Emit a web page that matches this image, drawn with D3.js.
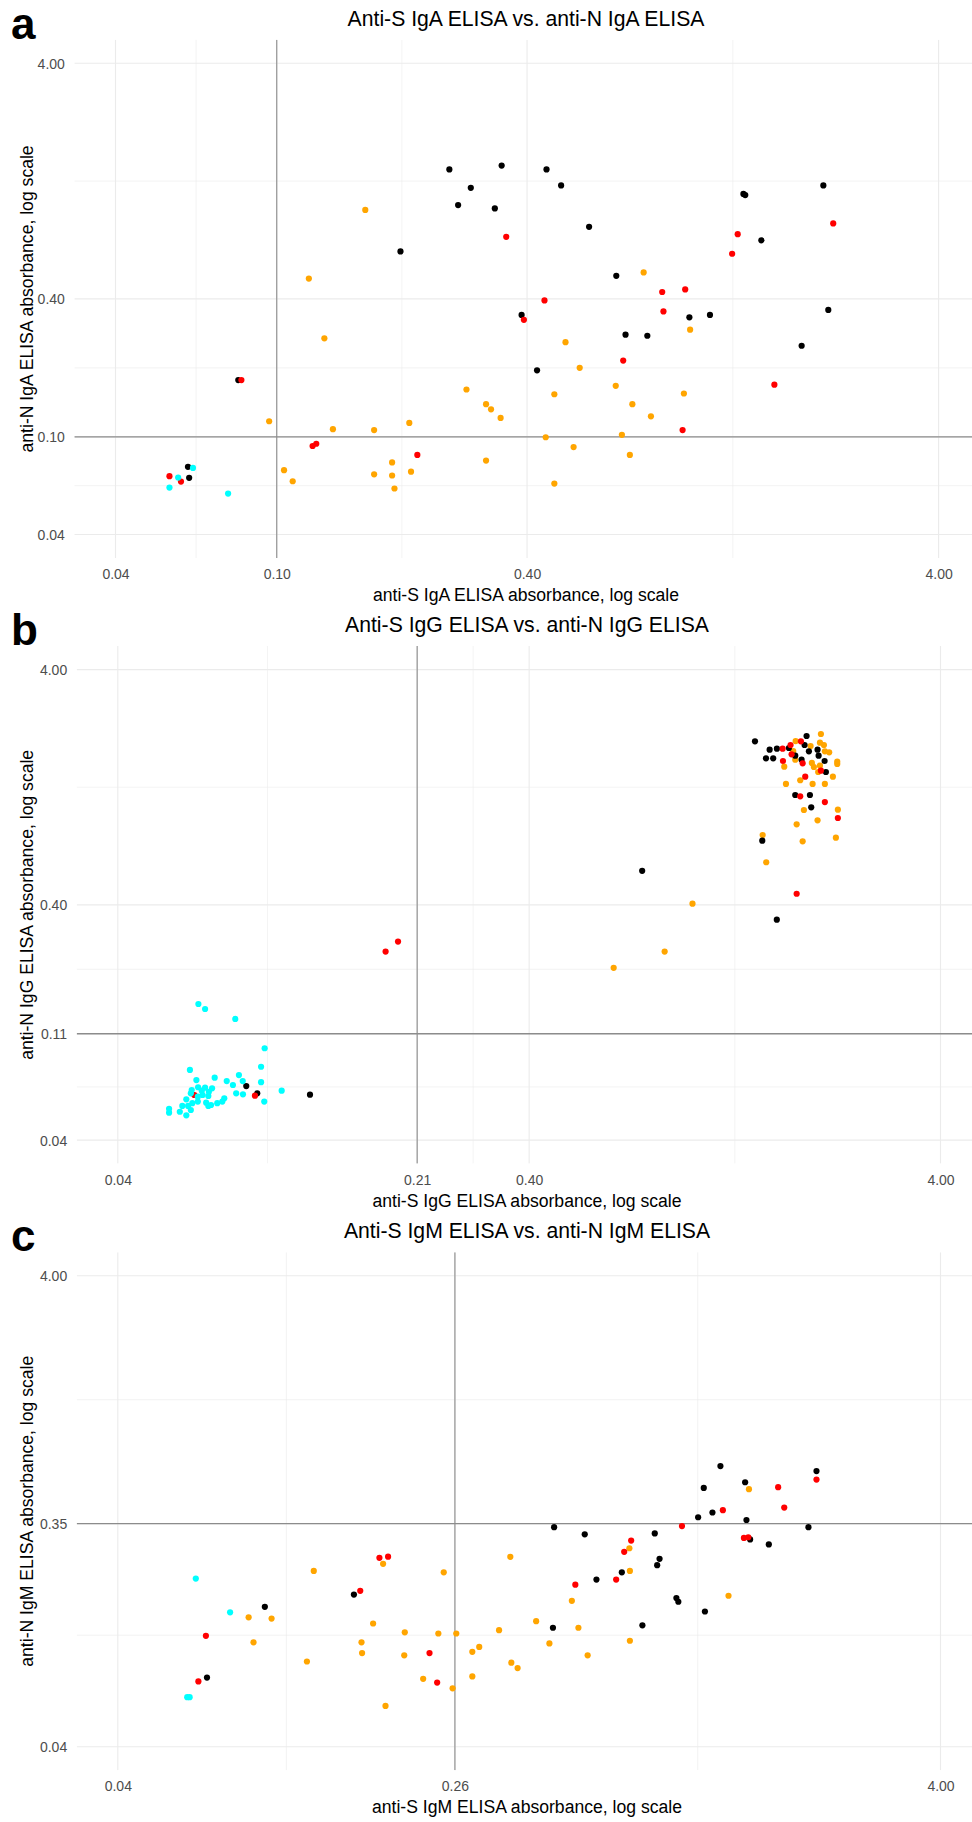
<!DOCTYPE html>
<html>
<head>
<meta charset="utf-8">
<script src="https://cdn.jsdelivr.net/npm/d3@7"></script>
<style>
  html, body { margin: 0; padding: 0; background: #ffffff; }
  svg { display: block; }
  text { font-family: "Liberation Sans", Arial, sans-serif; }
</style>
</head>
<body>
<div id="chart"></div>
<script>
// ---------------- DATA ----------------
// Panel a: IgA  [anti-S absorbance, anti-N absorbance]
const igaBlack = [[0.259,1.418],[0.347,1.472],[0.446,1.418],[0.292,1.185],[0.484,1.212],[0.272,1.001],[0.334,0.968],[2.099,1.212],[1.342,1.116],[1.356,1.103],[0.566,0.809],[1.484,0.709],[0.197,0.636],[0.659,0.501],[0.388,0.342],[0.992,0.334],[1.113,0.342],[2.158,0.359],[0.694,0.282],[0.784,0.279],[1.859,0.253],[0.423,0.199],[0.0795,0.181],[0.0600,0.0775],[0.0604,0.0696]];
const igaRed = [[0.356,0.734],[2.218,0.836],[1.300,0.753],[1.260,0.622],[0.441,0.394],[0.852,0.428],[0.969,0.439],[0.858,0.354],[0.393,0.326],[0.685,0.219],[1.596,0.173],[0.0809,0.181],[0.955,0.111],[0.1205,0.095],[0.123,0.0971],[0.2165,0.0871],[0.0541,0.0707],[0.0577,0.0671]];
const igaOrange = [[0.1618,0.954],[0.118,0.488],[0.768,0.518],[0.1287,0.272],[0.996,0.296],[0.496,0.262],[0.537,0.204],[0.657,0.171],[0.285,0.165],[0.466,0.1575],[0.962,0.1587],[0.318,0.143],[0.327,0.136],[0.721,0.143],[0.345,0.125],[0.800,0.127],[0.0945,0.121],[0.135,0.112],[0.170,0.111],[0.207,0.119],[0.444,0.1035],[0.680,0.106],[0.519,0.094],[0.711,0.0871],[0.318,0.0824],[0.188,0.0809],[0.1027,0.075],[0.1078,0.0673],[0.170,0.072],[0.188,0.0712],[0.209,0.0739],[0.1905,0.0627],[0.466,0.0658]];
const igaCyan = [[0.0617,0.0767],[0.0568,0.0698],[0.0541,0.0633],[0.0751,0.0597]];

// Panel b: IgG
const iggBlack = [[1.416,1.982],[1.537,1.826],[1.601,1.844],[1.506,1.679],[1.568,1.679],[1.890,2.088],[1.869,1.912],[1.774,1.722],[1.838,1.656],[1.915,1.798],[2.010,1.826],[2.022,1.722],[2.091,1.635],[2.106,1.468],[1.774,1.172],[1.926,1.172],[1.940,1.039],[1.475,0.750],[1.712,1.857],[0.753,0.558],[1.600,0.346],[0.0821,0.0679],[0.0873,0.0632],[0.1173,0.0624]];
const iggRed = [[1.653,1.844],[1.728,1.912],[1.831,1.982],[1.738,1.746],[1.656,1.635],[1.849,1.599],[2.048,1.487],[1.876,1.402],[1.824,1.157],[2.094,1.094],[2.252,0.936],[1.788,0.446],[0.1791,0.2533],[0.1920,0.2793],[0.0862,0.0618],[0.0614,0.0622]];
const iggOrange = [[2.048,2.130],[1.778,1.988],[2.037,1.956],[2.083,1.912],[1.933,1.893],[1.754,1.803],[2.094,1.798],[2.145,1.780],[1.774,1.656],[1.947,1.604],[2.244,1.624],[2.244,1.588],[1.668,1.547],[1.969,1.542],[2.037,1.562],[2.017,1.468],[2.190,1.402],[1.824,1.354],[1.684,1.306],[1.955,1.306],[2.094,1.306],[1.862,1.012],[2.252,1.015],[2.010,0.915],[1.788,0.880],[1.478,0.792],[2.227,0.772],[1.849,0.745],[1.508,0.607],[0.998,0.4045],[0.854,0.2533],[0.642,0.216]];
const iggCyan = [[0.0628,0.1516],[0.0652,0.1443],[0.0772,0.1309],[0.0910,0.0983],[0.0892,0.0820],[0.0599,0.0795],[0.0788,0.0756],[0.0688,0.0737],[0.0621,0.0720],[0.0805,0.0713],[0.0736,0.0713],[0.0892,0.0705],[0.0762,0.0686],[0.0627,0.0671],[0.0652,0.0668],[0.0678,0.0664],[0.0605,0.0653],[0.0640,0.0649],[0.0666,0.0642],[0.0602,0.0632],[0.1001,0.0649],[0.0776,0.0632],[0.0806,0.0626],[0.0643,0.0622],[0.0626,0.0612],[0.0664,0.0616],[0.0726,0.0602],[0.0587,0.0596],[0.0626,0.0583],[0.0656,0.0577],[0.0908,0.0583],[0.0718,0.0583],[0.0698,0.0574],[0.0674,0.0564],[0.0664,0.0559],[0.0574,0.0559],[0.0593,0.0559],[0.0607,0.0574],[0.0602,0.0537],[0.0533,0.0543],[0.0533,0.0523],[0.0566,0.0528],[0.0587,0.0510]];

// Panel c: IgM
const igmBlack = [[1.167,0.622],[1.998,0.592],[1.063,0.502],[1.340,0.531],[1.116,0.395],[1.030,0.377],[1.350,0.367],[1.910,0.342],[0.460,0.342],[0.546,0.319],[0.808,0.322],[1.378,0.3035],[1.530,0.289],[0.830,0.251],[0.819,0.236],[0.672,0.220],[0.583,0.205],[0.912,0.171],[0.922,0.165],[1.070,0.150],[0.754,0.131],[0.457,0.128],[0.150,0.177],[0.0911,0.157],[0.0659,0.0786]];
const igmRed = [[1.998,0.545],[1.612,0.506],[1.668,0.4145],[1.183,0.404],[0.941,0.346],[1.331,0.308],[1.364,0.310],[0.708,0.300],[0.681,0.269],[0.173,0.2535],[0.1816,0.2564],[0.651,0.205],[0.518,0.195],[0.1554,0.1836],[0.0655,0.1183],[0.229,0.0999],[0.239,0.0749],[0.0628,0.0757]];
const igmOrange = [[1.369,0.496],[0.701,0.2785],[0.360,0.256],[0.1766,0.239],[0.1198,0.223],[0.248,0.220],[0.703,0.223],[1.221,0.175],[0.508,0.1665],[0.0832,0.1417],[0.0946,0.140],[0.167,0.1334],[0.416,0.1365],[0.527,0.128],[0.1994,0.1224],[0.2406,0.121],[0.266,0.121],[0.338,0.125],[0.0855,0.111],[0.1565,0.111],[0.448,0.1098],[0.703,0.1127],[0.3025,0.1061],[0.291,0.1011],[0.157,0.0999],[0.1988,0.0977],[0.555,0.0977],[0.1153,0.092],[0.362,0.091],[0.375,0.0863],[0.291,0.0795],[0.221,0.0777],[0.2606,0.0708],[0.179,0.0596]];
const igmCyan = [[0.0619,0.207],[0.075,0.1488],[0.059,0.0649],[0.0598,0.0649]];

// Axis breaks (the middle break is the assay cut-off) and their labels
const igaXTicks = [0.04, 0.0986, 0.4, 4];
const igaXLabels = ["0.04", "0.10", "0.40", "4.00"];
const igaYTicks = [0.04, 0.1039, 0.4, 4];
const igaYLabels = ["0.04", "0.10", "0.40", "4.00"];
const iggXTicks = [0.04, 0.2137, 0.4, 4];
const iggXLabels = ["0.04", "0.21", "0.40", "4.00"];
const iggYTicks = [0.04, 0.1133, 0.4, 4];
const iggYLabels = ["0.04", "0.11", "0.40", "4.00"];
const igmXTicks = [0.04, 0.264, 4];
const igmXLabels = ["0.04", "0.26", "4.00"];
const igmYTicks = [0.04, 0.354, 4];
const igmYLabels = ["0.04", "0.35", "4.00"];

const cutoffs = { iga: [0.0986, 0.1039], igg: [0.2137, 0.1133], igm: [0.264, 0.354] };
const panelLetters = ["a", "b", "c"];
const panelTitles = ["Anti-S IgA ELISA vs. anti-N IgA ELISA", "Anti-S IgG ELISA vs. anti-N IgG ELISA", "Anti-S IgM ELISA vs. anti-N IgM ELISA"];
const xTitles = ["anti-S IgA ELISA absorbance, log scale", "anti-S IgG ELISA absorbance, log scale", "anti-S IgM ELISA absorbance, log scale"];
const yTitles = ["anti-N IgA ELISA absorbance, log scale", "anti-N IgG ELISA absorbance, log scale", "anti-N IgM ELISA absorbance, log scale"];
const groupColors = { black: "#000000", orange: "#FFA500", red: "#FF0000", cyan: "#00FFFF" };

const panels = [
  { key: "iga", black: igaBlack, red: igaRed, orange: igaOrange, cyan: igaCyan, xTicks: igaXTicks, xLabels: igaXLabels, yTicks: igaYTicks, yLabels: igaYLabels },
  { key: "igg", black: iggBlack, red: iggRed, orange: iggOrange, cyan: iggCyan, xTicks: iggXTicks, xLabels: iggXLabels, yTicks: iggYTicks, yLabels: iggYLabels },
  { key: "igm", black: igmBlack, red: igmRed, orange: igmOrange, cyan: igmCyan, xTicks: igmXTicks, xLabels: igmXLabels, yTicks: igmYTicks, yLabels: igmYLabels }
];

// ---------------- LAYOUT ----------------
const W = 972, H = 1822;
const PANEL_STEP = 606.1;
// pixel positions of the 0.04 and 4.00 breaks in each panel (relative to panel top)
const geom = [
  { x0: 115.5, x1: 938.6, y1: 63.3, y0: 534.5, cx: 526 },
  { x0: 117.8, x1: 940.5, y1: 63.5, y0: 534.0, cx: 527 },
  { x0: 117.8, x1: 940.5, y1: 63.5, y0: 534.5, cx: 527 }
];

const svg = d3.select("#chart").append("svg")
  .attr("width", W).attr("height", H)
  .attr("viewBox", `0 0 ${W} ${H}`);
svg.append("rect").attr("width", W).attr("height", H).attr("fill", "#ffffff");

function minorBreaks(ticks) {
  const out = [];
  for (let i = 0; i < ticks.length - 1; i++) out.push(Math.sqrt(ticks[i] * ticks[i + 1]));
  return out;
}

panels.forEach((p, i) => {
  const g0 = geom[i];
  const top = i * PANEL_STEP;
  const g = svg.append("g").attr("transform", `translate(0,${top})`);

  const x = d3.scaleLog().domain([0.04, 4]).range([g0.x0, g0.x1]);
  const y = d3.scaleLog().domain([0.04, 4]).range([g0.y0, g0.y1]);
  const padX = 0.05 * (g0.x1 - g0.x0);
  const padY = 0.05 * (g0.y0 - g0.y1);
  const left = g0.x0 - padX, right = Math.min(W, g0.x1 + padX);
  const ptop = g0.y1 - padY, pbot = g0.y0 + padY;

  const clipId = "clip" + i;
  g.append("clipPath").attr("id", clipId).append("rect")
    .attr("x", left).attr("y", ptop).attr("width", right - left).attr("height", pbot - ptop);

  const plot = g.append("g").attr("clip-path", `url(#${clipId})`);

  // minor grid
  plot.selectAll(".vminor").data(minorBreaks(p.xTicks)).enter().append("line")
    .attr("x1", d => x(d)).attr("x2", d => x(d)).attr("y1", ptop).attr("y2", pbot)
    .attr("stroke", "#EBEBEB").attr("stroke-width", 0.6);
  plot.selectAll(".hminor").data(minorBreaks(p.yTicks)).enter().append("line")
    .attr("y1", d => y(d)).attr("y2", d => y(d)).attr("x1", left).attr("x2", right)
    .attr("stroke", "#EBEBEB").attr("stroke-width", 0.6);
  // major grid
  plot.selectAll(".vmajor").data(p.xTicks).enter().append("line")
    .attr("x1", d => x(d)).attr("x2", d => x(d)).attr("y1", ptop).attr("y2", pbot)
    .attr("stroke", "#EBEBEB").attr("stroke-width", 1.1);
  plot.selectAll(".hmajor").data(p.yTicks).enter().append("line")
    .attr("y1", d => y(d)).attr("y2", d => y(d)).attr("x1", left).attr("x2", right)
    .attr("stroke", "#EBEBEB").attr("stroke-width", 1.1);

  // cut-off lines
  const [cx, cy] = cutoffs[p.key];
  plot.append("line").attr("x1", x(cx)).attr("x2", x(cx)).attr("y1", ptop).attr("y2", pbot)
    .attr("stroke", "#8C8C8C").attr("stroke-width", 1.1);
  plot.append("line").attr("y1", y(cy)).attr("y2", y(cy)).attr("x1", left).attr("x2", right)
    .attr("stroke", "#8C8C8C").attr("stroke-width", 1.3);

  // points
  ["orange", "black", "red", "cyan"].forEach(c => {
    plot.selectAll(".pt-" + c).data(p[c]).enter().append("circle")
      .attr("cx", d => x(d[0])).attr("cy", d => y(d[1])).attr("r", 3.1)
      .attr("fill", groupColors[c]);
  });

  // axes (labels only, ggplot minimal style)
  const xAxis = d3.axisBottom(x).tickValues(p.xTicks).tickFormat((d, k) => p.xLabels[k]).tickSize(0).tickPadding(0);
  const xa = g.append("g").attr("transform", `translate(0,${g0.y0 + padY + 21})`).call(xAxis);
  xa.select(".domain").remove();
  xa.selectAll("text").attr("dy", 0).attr("y", 0)
    .attr("font-size", 14).attr("fill", "#4D4D4D").attr("font-family", "Liberation Sans, Arial, sans-serif");

  const yAxis = d3.axisLeft(y).tickValues(p.yTicks).tickFormat((d, k) => p.yLabels[k]).tickSize(0).tickPadding(0);
  const ya = g.append("g").attr("transform", `translate(${left - 9.5},0)`).call(yAxis);
  ya.select(".domain").remove();
  ya.selectAll("text").attr("dy", "0.35em")
    .attr("font-size", 14).attr("fill", "#4D4D4D").attr("font-family", "Liberation Sans, Arial, sans-serif");

  // titles
  g.append("text").attr("x", g0.cx).attr("y", 26).attr("text-anchor", "middle")
    .attr("font-size", 21.2).attr("fill", "#000").text(panelTitles[i]);
  g.append("text").attr("x", g0.cx).attr("y", 600.8).attr("text-anchor", "middle")
    .attr("font-size", 17.6).attr("fill", "#000").text(xTitles[i]);
  g.append("text")
    .attr("transform", `translate(33,${(ptop + pbot) / 2}) rotate(-90)`)
    .attr("text-anchor", "middle").attr("font-size", 17.6).attr("fill", "#000").text(yTitles[i]);
  g.append("text").attr("x", 11).attr("y", 39).attr("font-size", 44).attr("font-weight", "bold")
    .attr("fill", "#000").text(panelLetters[i]);
});
</script>
</body>
</html>
